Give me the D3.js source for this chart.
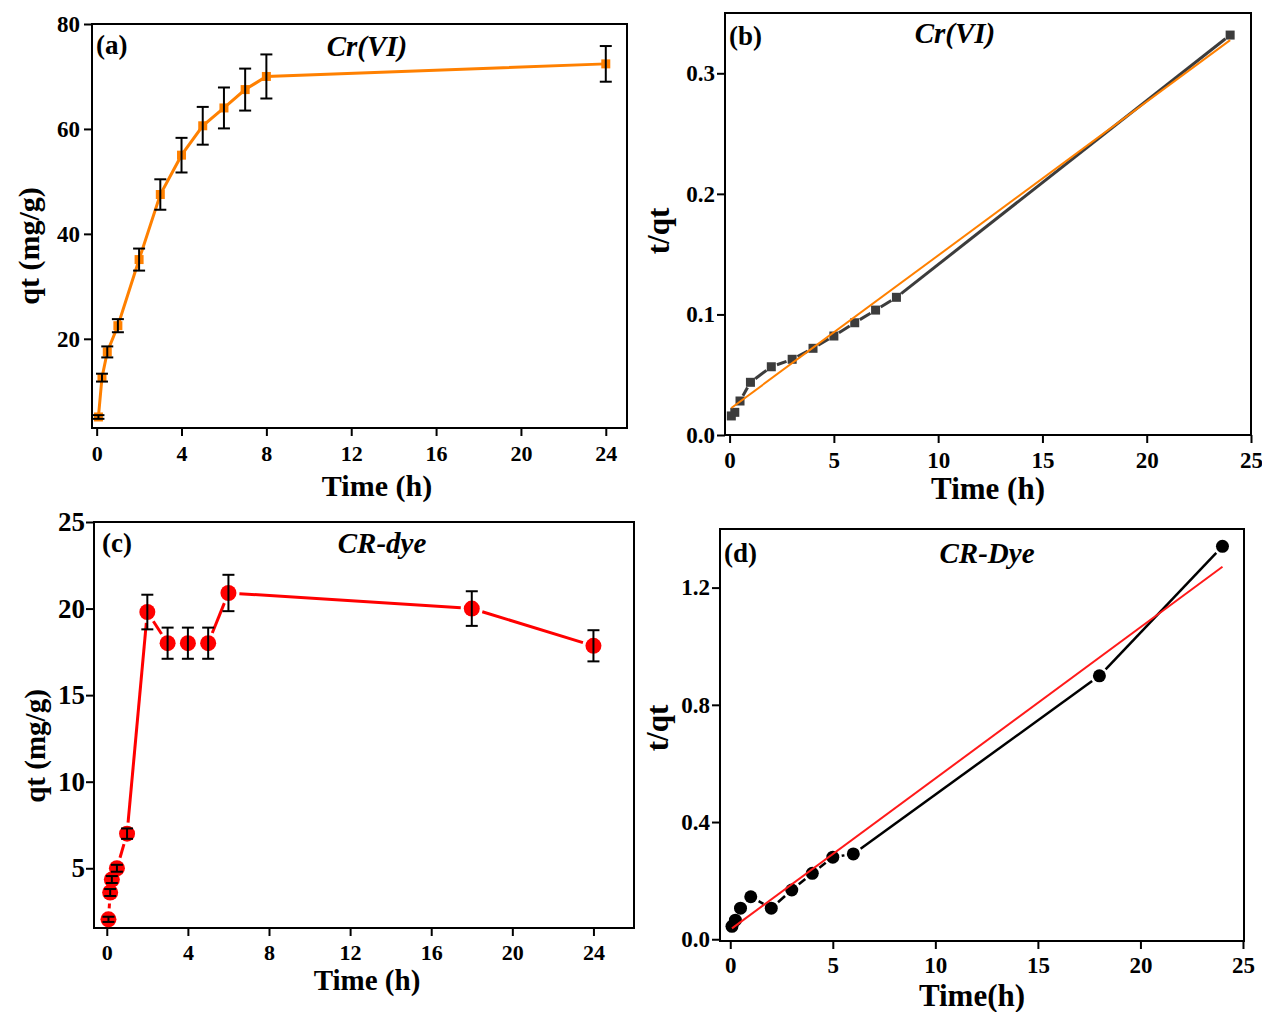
<!DOCTYPE html>
<html lang="en">
<head>
  <meta charset="UTF-8">
  <title>Adsorption kinetics panels</title>
  <script src="https://d3js.org/d3.v7.min.js"></script>
  <style>
    body { margin: 0; background: #fff; }
    text { font-family: "Liberation Serif", "Times New Roman", serif; font-weight: bold; fill: #000; }
  </style>
</head>
<body>
<div id="chart"></div>
<script>
  // (a) Cr(VI) qt vs time
  const timeA = [0.083, 0.25, 0.5, 1, 2, 3, 4, 5, 6, 7, 8, 24];
  const qtA   = [5.1, 12.6, 17.5, 22.5, 35.1, 47.5, 55.0, 60.6, 64.0, 67.5, 70.0, 72.4];
  const errA  = [0.35, 0.75, 1.05, 1.25, 2.1, 2.9, 3.3, 3.6, 3.9, 4.0, 4.2, 3.4];

  // (b) Cr(VI) t/qt vs time + linear fit
  const timeB = [0.083, 0.25, 0.5, 1, 2, 3, 4, 5, 6, 7, 8, 24];
  const tqB   = [0.0158, 0.0188, 0.0282, 0.0437, 0.0566, 0.0628, 0.0719, 0.0821, 0.0931, 0.1036, 0.1142, 0.3317];
  const fitTimeB = [0.083, 24];
  const fitB     = [0.0224, 0.3275];

  // (c) CR-dye qt vs time
  const timeC = [0.083, 0.167, 0.25, 0.5, 1, 2, 3, 4, 5, 6, 18, 24];
  const qtC   = [2.05, 3.6, 4.35, 5.0, 7.0, 19.8, 18.0, 18.0, 18.0, 20.9, 20.0, 17.85];
  const errC  = [0.15, 0.2, 0.2, 0.2, 0.3, 1.0, 0.9, 0.9, 0.9, 1.05, 1.0, 0.9];

  // (d) CR-dye t/qt vs time + linear fit
  const timeD = [0.083, 0.25, 0.5, 1, 2, 3, 4, 5, 6, 18, 24];
  const tqD   = [0.044, 0.065, 0.106, 0.145, 0.106, 0.168, 0.225, 0.280, 0.291, 0.899, 1.341];
  const fitTimeD = [0.083, 24];
  const fitD     = [0.037, 1.271];

  // tick values
  const xTicksAC = [0, 4, 8, 12, 16, 20, 24];
  const xTicksBD = [0, 5, 10, 15, 20, 25];
  const yTicksA = [20, 40, 60, 80];
  const yTicksB = [0, 0.1, 0.2, 0.3];
  const yTicksC = [5, 10, 15, 20, 25];
  const yTicksD = [0, 0.4, 0.8, 1.2];

  const svg = d3.select('#chart').append('svg')
    .attr('width', 1262).attr('height', 1012);

  svg.append('rect').attr('width', 1262).attr('height', 1012).attr('fill', '#fff');

  // build one framed panel with its axes
  function makePanel(o) {
    const g = svg.append('g');
    const x = d3.scaleLinear().domain(o.xDomain).range([o.left, o.right]);
    const y = d3.scaleLinear().domain(o.yDomain).range([o.bottom, o.top]);

    const xAxis = g.append('g')
      .attr('transform', `translate(0,${o.bottom})`)
      .call(d3.axisBottom(x).tickValues(o.xTicks).tickSize(8).tickPadding(o.xPad).tickFormat(o.xFmt));
    const yAxis = g.append('g')
      .attr('transform', `translate(${o.left},0)`)
      .call(d3.axisLeft(y).tickValues(o.yTicks).tickSize(8).tickPadding(o.yPad).tickFormat(o.yFmt));

    [xAxis, yAxis].forEach(a => {
      a.select('.domain').remove();
      a.selectAll('.tick line').attr('stroke', '#000').attr('stroke-width', 2);
      a.selectAll('text').attr('fill', '#000');
    });
    xAxis.selectAll('text').style('font-size', o.xFont + 'px');
    yAxis.selectAll('text').style('font-size', o.yFont + 'px');

    g.append('rect')
      .attr('x', o.left).attr('y', o.top)
      .attr('width', o.right - o.left).attr('height', o.bottom - o.top)
      .attr('fill', 'none').attr('stroke', '#000').attr('stroke-width', 2);

    // axis titles
    g.append('text')
      .attr('x', o.xTitle[0]).attr('y', o.xTitle[1])
      .attr('text-anchor', 'middle').attr('dy', '0.35em')
      .style('font-size', o.titleFont + 'px')
      .text(o.xLabel);
    g.append('text')
      .attr('transform', `translate(${o.yTitle[0]},${o.yTitle[1]}) rotate(-90)`)
      .attr('text-anchor', 'middle').attr('dy', '0.35em')
      .style('font-size', o.titleFont + 'px')
      .text(o.yLabel);

    // panel tag and species name
    g.append('text')
      .attr('x', o.tag[0]).attr('y', o.tag[1])
      .style('font-size', '27px')
      .text(o.tagText);
    g.append('text')
      .attr('x', o.name[0]).attr('y', o.name[1])
      .attr('text-anchor', 'middle')
      .style('font-size', '29px').style('font-style', 'italic')
      .text(o.nameText);

    return { g, x, y };
  }

  // connecting segments, pulled back from the markers like Origin does
  function gapLines(p, xs, ys, gap, color, width) {
    const pts = xs.map((t, i) => [p.x(t), p.y(ys[i])]);
    for (let i = 1; i < pts.length; i++) {
      const [x0, y0] = pts[i - 1], [x1, y1] = pts[i];
      const len = Math.hypot(x1 - x0, y1 - y0);
      if (len <= 2 * gap + 1) continue;
      const ux = (x1 - x0) / len, uy = (y1 - y0) / len;
      p.g.append('line')
        .attr('x1', x0 + ux * gap).attr('y1', y0 + uy * gap)
        .attr('x2', x1 - ux * gap).attr('y2', y1 - uy * gap)
        .attr('stroke', color).attr('stroke-width', width)
        .attr('stroke-linecap', 'butt');
    }
  }

  function errorBars(p, xs, ys, es, cap) {
    xs.forEach((t, i) => {
      const cx = p.x(t), top = p.y(ys[i] + es[i]), bot = p.y(ys[i] - es[i]);
      p.g.append('line').attr('x1', cx).attr('x2', cx).attr('y1', top).attr('y2', bot)
        .attr('stroke', '#000').attr('stroke-width', 2);
      [top, bot].forEach(yy => {
        p.g.append('line').attr('x1', cx - cap).attr('x2', cx + cap).attr('y1', yy).attr('y2', yy)
          .attr('stroke', '#000').attr('stroke-width', 2);
      });
    });
  }

  function squares(p, xs, ys, size, color) {
    p.g.selectAll(null).data(xs).enter().append('rect')
      .attr('x', (t) => p.x(t) - size / 2)
      .attr('y', (t, i) => p.y(ys[i]) - size / 2)
      .attr('width', size).attr('height', size)
      .attr('fill', color);
  }

  function circles(p, xs, ys, r, color) {
    p.g.selectAll(null).data(xs).enter().append('circle')
      .attr('cx', (t) => p.x(t))
      .attr('cy', (t, i) => p.y(ys[i]))
      .attr('r', r)
      .attr('fill', color);
  }

  const fmt1 = d3.format('.1f');
  const fmt0 = d3.format('d');

  // ---- (a)
  const pA = makePanel({
    left: 92, right: 627, top: 24, bottom: 428,
    xDomain: [-0.22, 25], yDomain: [3, 80],
    xTicks: xTicksAC, yTicks: yTicksA, xFmt: fmt0, yFmt: fmt0,
    xPad: 9, yPad: 4, xFont: 22, yFont: 23,
    xLabel: 'Time (h)', yLabel: 'qt (mg/g)', titleFont: 30,
    xTitle: [377, 485], yTitle: [28, 246],
    tag: [96, 54], tagText: '(a)', name: [367, 56], nameText: 'Cr(VI)'
  });
  pA.g.append('path')
    .datum(timeA.map((t, i) => [t, qtA[i]]))
    .attr('fill', 'none').attr('stroke', '#ff8000').attr('stroke-width', 3)
    .attr('d', d3.line().x(d => pA.x(d[0])).y(d => pA.y(d[1])));
  squares(pA, timeA, qtA, 9, '#ff8000');
  errorBars(pA, timeA, qtA, errA, 6);

  // ---- (b)
  const pB = makePanel({
    left: 725, right: 1251, top: 13, bottom: 435,
    xDomain: [-0.22, 25], yDomain: [0, 0.35],
    xTicks: xTicksBD, yTicks: yTicksB, xFmt: fmt0, yFmt: fmt1,
    xPad: 9, yPad: 2, xFont: 23, yFont: 23,
    xLabel: 'Time (h)', yLabel: 't/qt', titleFont: 31,
    xTitle: [988, 488], yTitle: [658, 231],
    tag: [729, 45], tagText: '(b)', name: [955, 43], nameText: 'Cr(VI)'
  });
  gapLines(pB, timeB, tqB, 6, '#3c3c3c', 3);
  squares(pB, timeB, tqB, 9, '#3c3c3c');
  pB.g.append('line')
    .attr('x1', pB.x(fitTimeB[0])).attr('y1', pB.y(fitB[0]))
    .attr('x2', pB.x(fitTimeB[1])).attr('y2', pB.y(fitB[1]))
    .attr('stroke', '#ff8000').attr('stroke-width', 2);

  // ---- (c)
  const pC = makePanel({
    left: 94, right: 634, top: 522, bottom: 928,
    xDomain: [-0.63, 26], yDomain: [1.55, 25],
    xTicks: xTicksAC, yTicks: yTicksC, xFmt: fmt0, yFmt: fmt0,
    xPad: 8, yPad: 1, xFont: 22, yFont: 27,
    xLabel: 'Time (h)', yLabel: 'qt (mg/g)', titleFont: 29,
    xTitle: [367, 980], yTitle: [35, 746],
    tag: [102, 552], tagText: '(c)', name: [382, 553], nameText: 'CR-dye'
  });
  gapLines(pC, timeC, qtC, 11, '#ff0000', 3);
  circles(pC, timeC, qtC, 8, '#ff0000');
  errorBars(pC, timeC, qtC, errC, 6);

  // ---- (d)
  const pD = makePanel({
    left: 720, right: 1244, top: 529, bottom: 941,
    xDomain: [-0.5, 25.05], yDomain: [-0.006, 1.4],
    xTicks: xTicksBD, yTicks: yTicksD, xFmt: fmt0, yFmt: fmt1,
    xPad: 8, yPad: 2, xFont: 23, yFont: 23,
    xLabel: 'Time(h)', yLabel: 't/qt', titleFont: 31,
    xTitle: [972, 995], yTitle: [657, 728],
    tag: [724, 562], tagText: '(d)', name: [987, 563], nameText: 'CR-Dye'
  });
  gapLines(pD, timeD, tqD, 9, '#000', 2.5);
  circles(pD, timeD, tqD, 6.5, '#000');
  pD.g.append('line')
    .attr('x1', pD.x(fitTimeD[0])).attr('y1', pD.y(fitD[0]))
    .attr('x2', pD.x(fitTimeD[1])).attr('y2', pD.y(fitD[1]))
    .attr('stroke', '#ff1a1a').attr('stroke-width', 2);
</script>
</body>
</html>
